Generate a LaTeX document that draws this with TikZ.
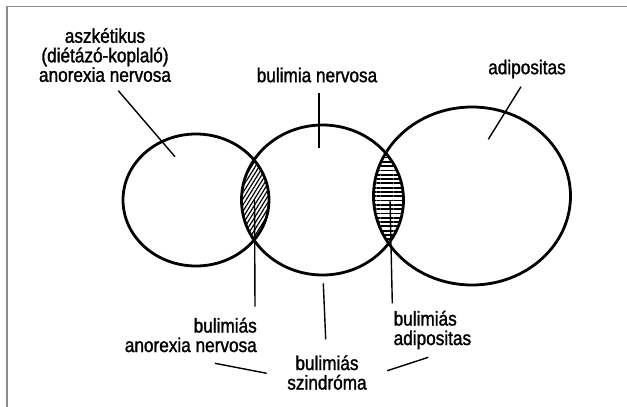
\documentclass[tikz,border=0pt]{standalone}
\usepackage{fontspec}
\setmainfont{Liberation Sans}[FakeStretch=0.86,FakeBold=1.4]
\usetikzlibrary{patterns.meta}
\definecolor{Frame}{HTML}{8C8C8C}

\begin{document}
\begin{tikzpicture}[
      x=1pt,y=-1pt,
      ring/.style={line width=2.8pt},
      leader/.style={line width=1.4pt},
      tag/.style={inner sep=0pt,font=\fontsize{20}{19.5}\selectfont},
      slant/.style={pattern={Lines[angle=58,distance=3.3pt,line width=1.2pt]}},
      flat/.style={pattern={Lines[angle=0,distance=4.3pt,line width=1.8pt]}}
    ]
      \useasboundingbox (0,0) rectangle (627,407);
      % frame of the scanned page
      \draw[Frame,line width=1.4pt] (7,407) -- (7,6.5) -- (627,6.5);

      % overlaps
      \begin{scope}
        \clip (196,200) ellipse [x radius=73,y radius=66];
        \fill[slant] (322.5,200) ellipse [x radius=81,y radius=75];
      \end{scope}
      \begin{scope}
        \clip (322.5,200) ellipse [x radius=81,y radius=75];
        \fill[flat] (472,196) ellipse [x radius=98.5,y radius=89];
      \end{scope}

      % circles
      \draw[ring] (196,200) ellipse [x radius=73,y radius=66];
      \draw[ring] (322.5,200) ellipse [x radius=81,y radius=75];
      \draw[ring] (472,196) ellipse [x radius=98.5,y radius=89];

      % labels
      \node[tag,align=center] (anorexia) at (105,55)
        {aszkétikus\\(diétázó-koplaló)\\anorexia nervosa};
      \node[tag] (bulimia) at (317,75) {bulimia nervosa};
      \node[tag] (adipos) at (527,69) {adipositas};
      \node[tag,align=right,anchor=east] (bulanorexia) at (257,335)
        {bulimiás\\anorexia nervosa};
      \node[tag,align=center] (szindroma) at (327,372.5)
        {bulimiás\\szindróma};
      \node[tag,align=left,anchor=west] (buladipos) at (393.5,330)
        {bulimiás\\adipositas};

      % leader ends
      \coordinate (anorexia-a) at (118.3,90.7);
      \coordinate (anorexia-b) at (175,156.7);
      \coordinate (bulimia-a) at (319,93.3);
      \coordinate (bulimia-b) at (319,148);
      \coordinate (adipos-a) at (521,86.7);
      \coordinate (adipos-b) at (488.3,139.3);
      \coordinate (bulanorexia-a) at (254.5,200);
      \coordinate (bulanorexia-b) at (255,306.7);
      \coordinate (szindroma-a) at (323.3,283.3);
      \coordinate (szindroma-b) at (325.7,339.3);
      \coordinate (buladipos-a) at (390,200);
      \coordinate (buladipos-b) at (392.3,303.3);
      \coordinate (sleft-a) at (215,363.3);
      \coordinate (sleft-b) at (266.7,373.3);
      \coordinate (sright-a) at (387.3,370.7);
      \coordinate (sright-b) at (428.3,357.3);

      \draw[leader] (anorexia-a) -- (anorexia-b);
      \draw[leader] (bulimia-a) -- (bulimia-b);
      \draw[leader] (adipos-a) -- (adipos-b);
      \draw[leader] (bulanorexia-a) -- (bulanorexia-b);
      \draw[leader] (szindroma-a) -- (szindroma-b);
      \draw[leader] (buladipos-a) -- (buladipos-b);
      \draw[leader] (sleft-a) -- (sleft-b);
      \draw[leader] (sright-a) -- (sright-b);
    \end{tikzpicture}
\end{document}
